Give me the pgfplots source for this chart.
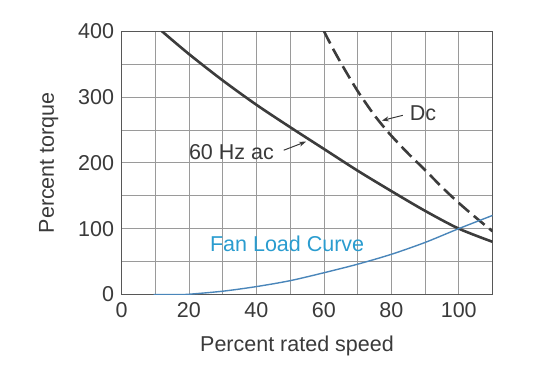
\documentclass[border=0pt]{standalone}
\usepackage{pgfplots}
\pgfplotsset{compat=1.18}
\usepackage{fontspec}
\setmainfont{Liberation Sans}
\usetikzlibrary{arrows.meta}
\definecolor{txt}{HTML}{3A3A3A}
\definecolor{crv}{HTML}{3C3C3C}
\definecolor{fanline}{HTML}{4A86BA}
\definecolor{fantext}{HTML}{2A9CCF}
\definecolor{gridc}{HTML}{9A9A9A}
\newcommand{\fs}{\fontsize{21.5bp}{24bp}\selectfont}
\begin{document}
\begin{tikzpicture}
\begin{axis}[
  name=ax,
  scale only axis,
  width=371bp, height=263.5bp,
  xmin=0, xmax=110, ymin=0, ymax=400,
  xtick={0,20,...,100}, minor xtick={10,30,...,110},
  ytick={0,100,...,400}, minor ytick={50,150,...,350},
  grid=both,
  major grid style={gridc, line width=0.6bp},
  minor grid style={gridc, line width=0.6bp},
  major tick length=0pt, minor tick length=0pt,
  axis line style={txt!85, line width=0.9bp},
  tick label style={font=\fs, text=txt},
  /pgf/number format/assume math mode=true,
  xticklabel style={yshift=-4bp},
  yticklabel style={xshift=-4bp},
  label style={font=\fs, text=txt},
  xlabel={Percent rated speed},
  ylabel={Percent torque},
  xlabel style={xshift=-10bp, yshift=-12bp},
  ylabel style={yshift=13bp},
  clip=true,
]
\addplot[crv, line width=2.6bp, smooth] coordinates {
 (11.9,400) (20,365) (30,325) (40,288) (50,254) (60,221) (70,188) (80,157) (90,127) (100,100) (110,80)
};
\addplot[crv, line width=2.6bp, smooth, dash pattern=on 14bp off 6bp] coordinates {
 (60,400) (62.5,375) (65,352) (67.5,330) (70,309) (72.5,290) (75,272) (77.5,256) (80,241) (85,214) (90,189) (95,163) (100,139) (105,117) (110,96)
};
\addplot[fanline, line width=1.4bp, smooth] coordinates {
 (9.5,0) (17,0) (20,0.4) (30,5) (40,12) (50,21) (60,33) (70,46) (80,61) (90,79) (100,100) (110,120)
};
\node[text=txt, font=\fs] at (axis cs:32.6,216.5) {60 Hz ac};
\draw[txt, line width=1bp, -{Stealth[length=7bp,width=5bp]}] (axis cs:48.1,219) -- (axis cs:54.7,232);
\node[text=txt, font=\fs] at (axis cs:89.4,274.7) {Dc};
\draw[txt, line width=1bp, -{Stealth[length=7bp,width=5bp]}] (axis cs:83.4,272) -- (axis cs:77.2,264);
\node[text=fantext, font=\fs, anchor=base west, inner sep=0pt] at (axis cs:26.2,65) {Fan Load Curve};
\end{axis}
\path (ax.south west) ++(-121.5bp,-73.5bp) coordinate (bl);
\path (ax.north east) ++(47.5bp,31bp) coordinate (tr);
\path[use as bounding box] (bl) rectangle (tr);
\end{tikzpicture}
\end{document}
